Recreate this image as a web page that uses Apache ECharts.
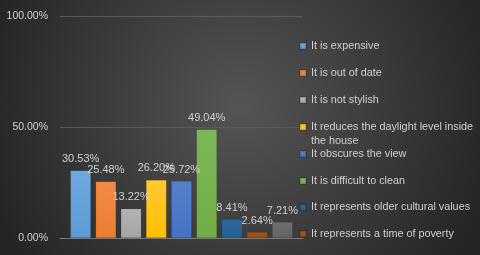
<!DOCTYPE html>
<html>
<head>
<meta charset="utf-8">
<script src="https://cdn.jsdelivr.net/npm/echarts@6/dist/echarts.min.js"></script>
<style>html,body{margin:0;padding:0;}#c{width:480px;height:255px;}</style>
</head>
<body>
<div id="c"></div>
<script>
const seriesNames = [
  'It is expensive',
  'It is out of date',
  'It is not stylish',
  'It reduces the daylight level inside the house',
  'It obscures the view',
  'It is difficult to clean',
  'It represents older cultural values',
  'It represents a time of poverty',
  'Other'
];
const values = [30.53, 25.48, 13.22, 26.20, 25.72, 49.04, 8.41, 2.64, 7.21];
const colors = ['#5B9BD5', '#ED7D31', '#A5A5A5', '#FFC000', '#4472C4', '#70AD47', '#255E91', '#9E480E', '#636363'];
const tops = ['#6FA9DF', '#F28B45', '#B3B3B3', '#FFC933', '#5580CC', '#7DB857', '#2F6AA0', '#AC5417', '#707070'];
const legendCount = 8;
const legendCenters = [46, 73, 100, 127, 154, 181, 207.5, 234];

const font = 'Liberation Sans';
const txt = '#d0d0d0';

const series = values.map((v, i) => ({
  name: seriesNames[i],
  type: 'bar',
  data: [v],
  barWidth: 20.5,
  barGap: '23%',
  itemStyle: {
    color: {type: 'linear', x: 0, y: 0, x2: 0, y2: 1,
      colorStops: [{offset: 0, color: tops[i]}, {offset: 1, color: colors[i]}]},
    borderColor: 'rgba(0,0,0,0.15)', borderWidth: 0.5
  },
  label: {
    show: true, position: 'top', distance: 6,
    color: txt, fontFamily: font, fontSize: 11,
    formatter: p => p.value.toFixed(2) + '%'
  }
}));

const legends = [];
for (let i = 0; i < legendCount; i++) {
  const multi = i === 3;
  legends.push({
    data: [{name: seriesNames[i], icon: 'rect'}],
    left: 299,
    top: multi ? legendCenters[i] - 21 : legendCenters[i] - 6.5,
    padding: 0,
    itemWidth: 6, itemHeight: 6,
    selectedMode: false,
    formatter: multi ? '\nIt reduces the daylight level inside\nthe house' : '{name}',
    textStyle: {color: txt, fontFamily: font, fontSize: 10.8, lineHeight: multi ? 14 : 13}
  });
}

const chart = echarts.init(document.getElementById('c'), null, {renderer: 'canvas'});
chart.setOption({
  animation: false,
  backgroundColor: {type: 'radial', x: 0.5, y: 0.42, r: 1.05,
    colorStops: [{offset: 0, color: '#555555'}, {offset: 1, color: '#242424'}]},
  grid: {left: 60, right: 177, top: 16.5, bottom: 17},
  legend: legends,
  xAxis: {
    type: 'category', data: [''],
    axisTick: {show: false}, axisLabel: {show: false},
    axisLine: {lineStyle: {color: '#7a7a7a', width: 1}}
  },
  yAxis: {
    type: 'value', min: 0, max: 100, interval: 50,
    axisLine: {show: false}, axisTick: {show: false},
    axisLabel: {color: txt, fontFamily: font, fontSize: 10.5, margin: 12,
      formatter: v => v.toFixed(2) + '%'},
    splitLine: {lineStyle: {color: '#5a5a5a', width: 1}}
  },
  series: series
});
</script>
</body>
</html>
